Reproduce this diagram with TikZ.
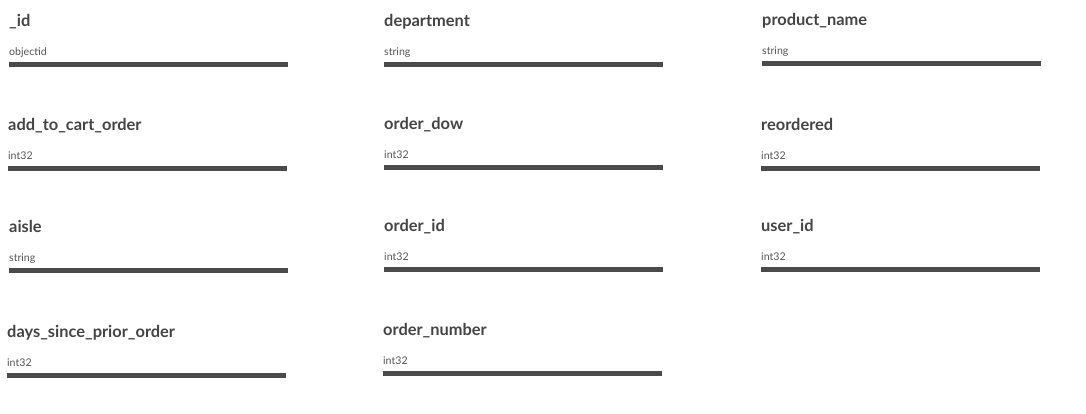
\documentclass[tikz,border=0pt]{standalone}
\usepackage{fontspec}
\setmainfont{Lato}
\definecolor{fg}{HTML}{444444}
\definecolor{sub}{HTML}{555555}
\definecolor{barc}{HTML}{4A4A4A}
\tikzset{
  ftitle/.style={anchor=base west, inner sep=0pt, font=\fontsize{16.4}{18}\selectfont\bfseries, text=fg},
  dtype/.style={anchor=base west, inner sep=0pt, font=\fontsize{10.6}{12}\selectfont, text=sub},
  fbar/.style={anchor=north west, inner sep=0pt, minimum width=279pt, minimum height=4.5pt, fill=barc, draw=none}
}
\newcommand{\fieldbox}[5]{%
  \node[fbar] (b#1) at (#2,#3) {};
  \node[ftitle] (t#1) at ($(b#1.north west)+(0,-35.5)$) {#4};
  \node[dtype] (d#1) at ($(b#1.north west)+(0,-6.5)$) {#5};
}
\usetikzlibrary{calc}
\begin{document}
\begin{tikzpicture}[x=1pt,y=-1pt]
\useasboundingbox (0,0) rectangle (1086,414);
\fieldbox{a}{9}{62}{\_id}{objectid}
\fieldbox{b}{384}{62}{department}{string}
\fieldbox{c}{762}{61}{product\_name}{string}
\fieldbox{d}{8}{166}{add\_to\_cart\_order}{int32}
\fieldbox{e}{384}{165}{order\_dow}{int32}
\fieldbox{f}{761}{166}{reordered}{int32}
\fieldbox{g}{9}{268}{aisle}{string}
\fieldbox{h}{384}{267}{order\_id}{int32}
\fieldbox{i}{761}{267}{user\_id}{int32}
\fieldbox{j}{7}{373}{days\_since\_prior\_order}{int32}
\fieldbox{k}{383}{371}{order\_number}{int32}
\end{tikzpicture}
\end{document}
